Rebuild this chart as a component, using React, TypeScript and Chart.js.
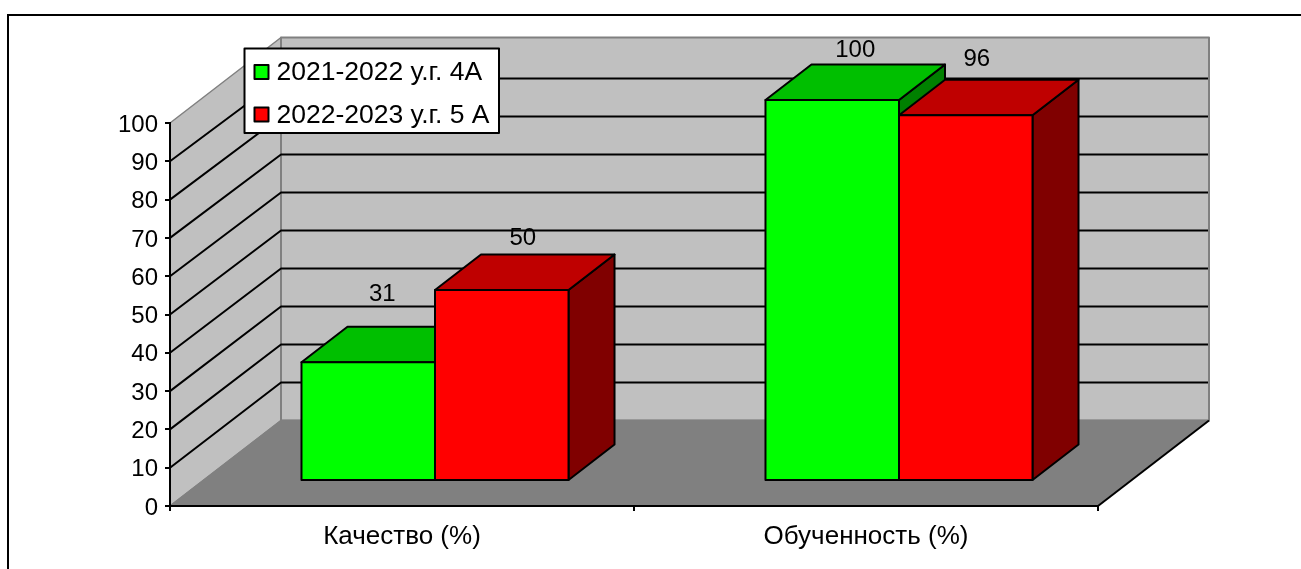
import React, { useEffect, useRef } from "react";
import { Chart, registerables } from "chart.js";

Chart.register(...registerables);

const categories = ["Качество (%)", "Обученность (%)"];
const series4A = [31, 100];
const series5A = [50, 96];
const seriesNames = ["2021-2022 у.г. 4А", "2022-2023 у.г. 5 А"];
const frontColors = ["#00FF00", "#FF0000"];
const topColors = ["#00BF00", "#BF0000"];
const sideColors = ["#008000", "#800000"];
// label centre relative to the bar's front-top-centre corner
const labelNudges = [
  [[14, -68], [23, -50]],
  [[21, -52], [11, -56]],
];

const FONT = "'Liberation Sans', Arial, sans-serif";
const FS = 24;
const FS_CAT = 26;
const FS_LEGEND = 26.5;
const WALL_DX = 111;
const WALL_DY = 85.5;
const BAR_DX = 33;
const BASE_SHIFT = 26;
const BAR_SCALE = 380 / 383;
const DEPTH_X = 46;
const DEPTH_Y = 35.5;
const LINE = 2;

const poly = (ctx: CanvasRenderingContext2D, pts: number[][], fill: string | null, stroke: string | null, lw = LINE) => {
  ctx.beginPath();
  pts.forEach(([x, y], i) => (i ? ctx.lineTo(x, y) : ctx.moveTo(x, y)));
  ctx.closePath();
  if (fill) {
    ctx.fillStyle = fill;
    ctx.fill();
  }
  if (stroke) {
    ctx.strokeStyle = stroke;
    ctx.lineWidth = lw;
    ctx.lineJoin = "round";
    ctx.stroke();
  }
};

const barBox = (chart: any, ds: number, i: number) => {
  const el = chart.getDatasetMeta(ds).data[i];
  const zero = chart.scales.y.getPixelForValue(0);
  const y0 = zero - BASE_SHIFT;
  const top = y0 - (zero - el.y) * BAR_SCALE;
  return { l: el.x - el.width / 2 + BAR_DX, r: el.x + el.width / 2 + BAR_DX, top, base: y0 };
};

const scene = {
  id: "scene3d",
  beforeDraw(chart: any) {
    const { ctx, chartArea: a, scales } = chart;
    const y = scales.y;
    ctx.save();
    // frame
    ctx.strokeStyle = "#000";
    ctx.lineWidth = 2;
    ctx.beginPath();
    ctx.moveTo(8, 580);
    ctx.lineTo(8, 15);
    ctx.lineTo(1310, 15);
    ctx.stroke();
    // walls
    const backR = a.right + WALL_DX;
    const backL = a.left + WALL_DX;
    const backT = a.top - WALL_DY;
    const backB = a.bottom - WALL_DY;
    poly(ctx, [[a.left, a.top], [backL, backT], [backL, backB], [a.left, a.bottom]], "#C0C0C0", "#808080", 1.5);
    poly(ctx, [[backL, backT], [backR, backT], [backR, backB], [backL, backB]], "#C0C0C0", "#808080", 2);
    poly(ctx, [[a.left, a.bottom], [backL, backB], [backR, backB], [a.right, a.bottom]], "#808080", null);
    ctx.strokeStyle = "#808080";
    ctx.lineWidth = 1.5;
    ctx.beginPath();
    ctx.moveTo(a.left, a.bottom);
    ctx.lineTo(backL, backB);
    ctx.lineTo(backR, backB);
    ctx.stroke();
    ctx.strokeStyle = "#000";
    ctx.lineWidth = 2;
    ctx.beginPath();
    ctx.moveTo(a.right, a.bottom);
    ctx.lineTo(backR, backB);
    ctx.stroke();
    // gridlines
    ctx.lineWidth = LINE;
    y.ticks.forEach((t: any) => {
      if (t.value === 0 || t.value === 100) return;
      const py = y.getPixelForValue(t.value);
      const backY = backB - (a.bottom - py) * BAR_SCALE;
      ctx.beginPath();
      ctx.moveTo(a.left, py);
      ctx.lineTo(backL, backY);
      ctx.lineTo(backR - 1, backY);
      ctx.stroke();
    });
    ctx.restore();
  },
  beforeDatasetsDraw(chart: any) {
    const { ctx } = chart;
    ctx.save();
    chart.data.datasets.forEach((_: any, ds: number) => {
      chart.data.labels.forEach((_l: any, i: number) => {
        const b = barBox(chart, ds, i);
        poly(ctx, [[b.r, b.top], [b.r + DEPTH_X, b.top - DEPTH_Y], [b.r + DEPTH_X, b.base - DEPTH_Y], [b.r, b.base]], sideColors[ds], "#000");
        poly(ctx, [[b.l, b.top], [b.l + DEPTH_X, b.top - DEPTH_Y], [b.r + DEPTH_X, b.top - DEPTH_Y], [b.r, b.top]], topColors[ds], "#000");
      });
    });
    ctx.restore();
  },
  beforeDatasetDraw(chart: any) {
    const { ctx, scales } = chart;
    const zero = scales.y.getPixelForValue(0);
    ctx.save();
    ctx.translate(BAR_DX, zero - BASE_SHIFT);
    ctx.scale(1, BAR_SCALE);
    ctx.translate(0, -zero);
  },
  afterDatasetDraw(chart: any) {
    chart.ctx.restore();
  },
  afterDatasetsDraw(chart: any) {
    const { ctx } = chart;
    ctx.save();
    chart.data.datasets.forEach((d: any, ds: number) => {
      d.data.forEach((v: number, i: number) => {
        const b = barBox(chart, ds, i);
        poly(ctx, [[b.l, b.top], [b.r, b.top], [b.r, b.base], [b.l, b.base]], null, "#000");
      });
    });
    // value labels
    ctx.fillStyle = "#000";
    ctx.font = `${FS}px ${FONT}`;
    ctx.textAlign = "center";
    ctx.textBaseline = "middle";
    chart.data.datasets.forEach((d: any, ds: number) => {
      d.data.forEach((v: number, i: number) => {
        const b = barBox(chart, ds, i);
        const [nx, ny] = labelNudges[ds][i];
        ctx.fillText(String(v), (b.l + b.r) / 2 + nx, b.top + ny);
      });
    });
    // legend
    ctx.fillStyle = "#fff";
    ctx.fillRect(244.5, 48.5, 254.5, 84.5);
    ctx.strokeStyle = "#000";
    ctx.lineWidth = 2;
    ctx.strokeRect(244.5, 48.5, 254.5, 84.5);
    ctx.textAlign = "left";
    ctx.font = `${FS_LEGEND}px ${FONT}`;
    chart.data.datasets.forEach((d: any, ds: number) => {
      const cy = 72 + ds * 42.5;
      ctx.fillStyle = frontColors[ds];
      ctx.fillRect(254.5, cy - 7, 14, 14);
      ctx.strokeStyle = "#000";
      ctx.strokeRect(254.5, cy - 7, 14, 14);
      ctx.fillStyle = "#000";
      ctx.fillText(d.label, 276.5, cy + 1);
    });
    ctx.restore();
  },
};

export default function App() {
  const ref = useRef<HTMLCanvasElement>(null);
  useEffect(() => {
    const chart = new Chart(ref.current as HTMLCanvasElement, {
      type: "bar",
      data: {
        labels: categories,
        datasets: [series4A, series5A].map((data, i) => ({
          label: seriesNames[i],
          data,
          backgroundColor: frontColors[i],
          borderWidth: 0,
          categoryPercentage: 0.5755,
          barPercentage: 1,
          clip: false,
        })),
      } as any,
      options: {
        animation: false,
        responsive: false,
        layout: { padding: { left: 0, right: 203, top: 123, bottom: 0 } },
        plugins: { legend: { display: false }, tooltip: { enabled: false } },
        scales: {
          x: {
            afterFit: (s: any) => {
              s.height = 63;
            },
            grid: { drawOnChartArea: false, color: "#000", tickLength: 5, lineWidth: 2 },
            border: { color: "#000", width: 2 },
            ticks: { color: "#000", padding: 10, maxRotation: 0, font: { family: FONT, size: FS_CAT } },
          },
          y: {
            min: 0,
            max: 100,
            afterFit: (s: any) => {
              s.width = 170;
            },
            grid: { drawOnChartArea: false, color: "#000", tickLength: 5, lineWidth: 2 },
            border: { color: "#000", width: 2 },
            ticks: { stepSize: 10, color: "#000", padding: 7, labelOffset: 2, font: { family: FONT, size: FS } },
          },
        },
      },
      plugins: [scene],
    } as any);
    return () => chart.destroy();
  }, []);
  return (
    <canvas
      ref={ref}
      width={1301}
      height={569}
      style={{ position: "fixed", left: 0, top: 0, width: 1301, height: 569, display: "block", background: "#fff" }}
    />
  );
}
